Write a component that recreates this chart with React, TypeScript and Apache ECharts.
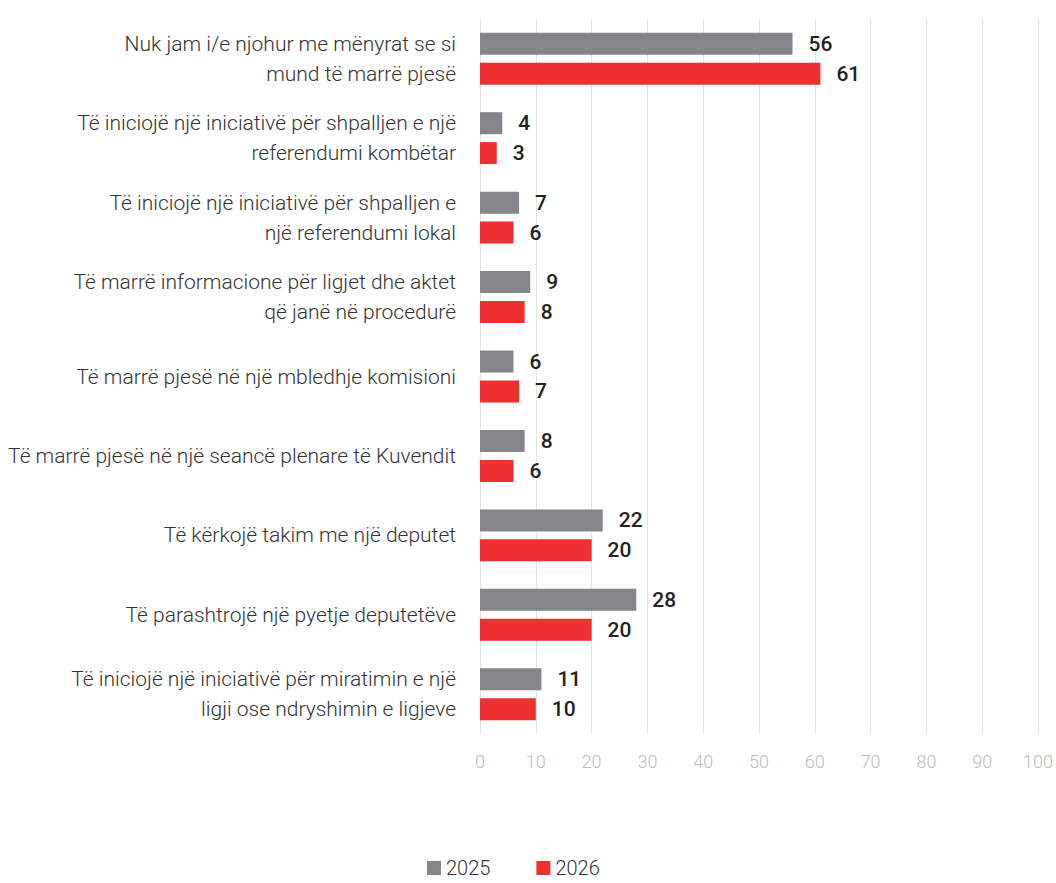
import React, { useEffect, useRef } from "react";
import * as echarts from "echarts";

const categories = [
  "Nuk jam i/e njohur me mënyrat se si\nmund të marrë pjesë",
  "Të iniciojë një iniciativë për shpalljen e një\nreferendumi kombëtar",
  "Të iniciojë një iniciativë për shpalljen e\nnjë referendumi lokal",
  "Të marrë informacione për ligjet dhe aktet\nqë janë në procedurë",
  "Të marrë pjesë në një mbledhje komisioni",
  "Të marrë pjesë në një seancë plenare të Kuvendit",
  "Të kërkojë takim me një deputet",
  "Të parashtrojë një pyetje deputetëve",
  "Të iniciojë një iniciativë për miratimin e një\nligji ose ndryshimin e ligjeve",
];
const values2025 = [56, 4, 7, 9, 6, 8, 22, 28, 11];
const values2026 = [61, 3, 6, 8, 7, 6, 20, 20, 10];

const GRAY = "#848589";
const RED = "#EE3030";

export default function App() {
  const ref = useRef<HTMLDivElement>(null);
  useEffect(() => {
    if (!ref.current) return;
    const chart = echarts.init(ref.current, undefined, { renderer: "svg" });
    const labelStyle = {
      show: true,
      position: "right" as const,
      distance: 16,
      fontFamily: "Roboto",
      fontWeight: 500,
      fontSize: 21,
      color: "#222",
    };
    chart.setOption({
      animation: false,
      textStyle: { fontFamily: "Roboto" },
      grid: { left: 480, width: 560, top: 19, height: 715, containLabel: false },
      xAxis: {
        type: "value",
        min: 0,
        max: 100,
        interval: 10,
        axisLine: { show: false },
        axisTick: { show: false },
        splitLine: { show: true, lineStyle: { color: "#e2e2e2", width: 1 } },
        axisLabel: {
          fontFamily: "Roboto",
          fontWeight: 300,
          fontSize: 18,
          color: "#bbbbbb",
          margin: 18,
        },
      },
      yAxis: {
        type: "category",
        data: categories,
        inverse: true,
        axisLine: { show: true, lineStyle: { color: "#e2e2e2" } },
        axisTick: { show: false },
        axisLabel: {
          fontFamily: "Roboto",
          fontWeight: 300,
          fontSize: 21,
          lineHeight: 30,
          color: "#333",
          margin: 24,
          align: "right",
        },
      },
      legend: {
        top: 858,
        left: 427,
        padding: 0,
        itemWidth: 14,
        itemHeight: 14,
        itemGap: 46,
        icon: "rect",
        textStyle: {
          fontFamily: "Roboto",
          fontWeight: 300,
          fontSize: 20,
          lineHeight: 18,
          color: "#333",
        },
        data: ["2025", "2026"],
      },
      series: [
        {
          name: "2025",
          type: "bar",
          data: values2025,
          barWidth: 22,
          barGap: "36%",
          itemStyle: { color: GRAY },
          label: labelStyle,
        },
        {
          name: "2026",
          type: "bar",
          data: values2026,
          barWidth: 22,
          barGap: "36%",
          itemStyle: { color: RED },
          label: labelStyle,
        },
      ],
    });
    return () => chart.dispose();
  }, []);
  return (
    <div
      ref={ref}
      style={{ position: "absolute", left: 0, top: 0, width: 1056, height: 883 }}
    />
  );
}
